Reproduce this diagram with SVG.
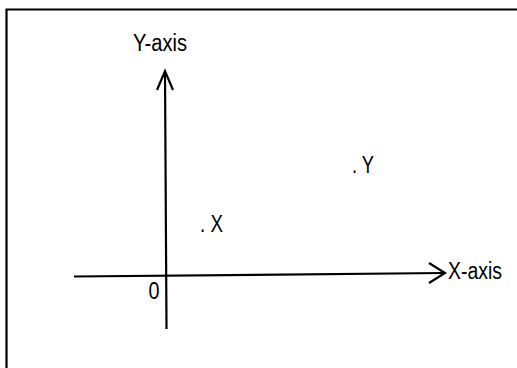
<svg xmlns="http://www.w3.org/2000/svg" width="517" height="368" viewBox="0 0 517 368">
<style>
.ln{stroke:#000;stroke-width:2.2;fill:none}
.t{font-family:"Liberation Sans",Arial,sans-serif;font-size:23px;fill:#000}
</style>
<rect width="517" height="368" fill="#fff"/>
<path class="ln" d="M6.5,368 V9.5 H517" stroke-width="2.4"/>
<g id="connectors">
<path id="y-axis" class="ln" d="M166.5,329 L165,72"/>
<path id="y-arrow" class="ln" d="M157,90 L165,71 L173,90"/>
<path id="x-axis" class="ln" d="M74,276.5 L444,273"/>
<path id="x-arrow" class="ln" d="M429,263 L445,273 L429,283"/>
</g>
<g id="label-y-axis"><text class="t" x="133" y="51" textLength="54" lengthAdjust="spacingAndGlyphs">Y-axis</text></g>
<g id="label-x-axis"><text class="t" x="448" y="279" textLength="54" lengthAdjust="spacingAndGlyphs">X-axis</text></g>
<g id="origin"><text class="t" x="148.5" y="299" textLength="11" lengthAdjust="spacingAndGlyphs">0</text></g>
<g id="point-x"><text class="t" x="200" y="232" textLength="23" lengthAdjust="spacingAndGlyphs">. X</text></g>
<g id="point-y"><text class="t" x="352" y="173" textLength="22" lengthAdjust="spacingAndGlyphs">. Y</text></g>
</svg>
